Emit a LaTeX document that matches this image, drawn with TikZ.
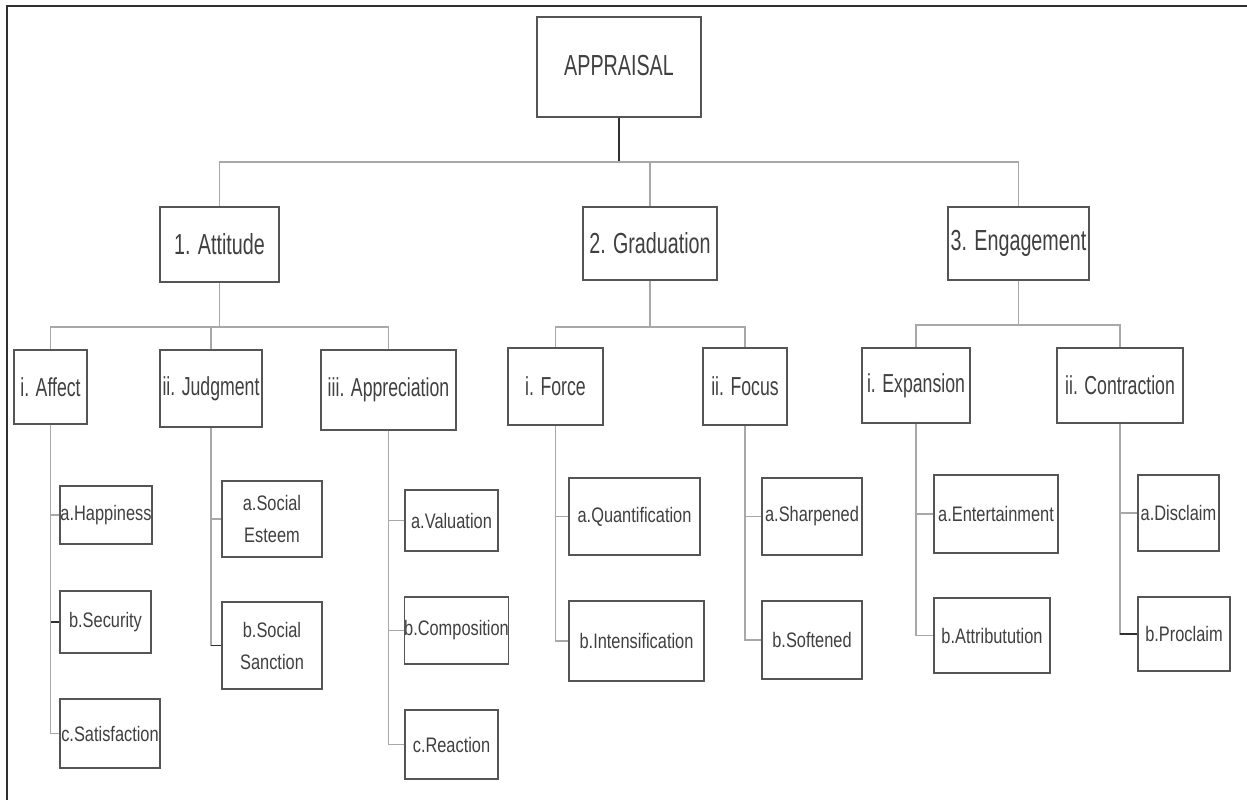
\documentclass[tikz,border=0pt]{standalone}
\usepackage{fontspec}
\newfontfamily\headfont{Liberation Sans}[FakeStretch=0.68]
\newfontfamily\leaffont{Liberation Sans}[FakeStretch=0.78]
\definecolor{boxc}{HTML}{555555}
\definecolor{txtc}{HTML}{404040}
\definecolor{linec}{HTML}{A8A8A8}
\definecolor{darkc}{HTML}{303030}
\begin{document}
\begin{tikzpicture}[x=1pt,y=-1pt,
  box/.style={draw=boxc, line width=1.2pt, inner sep=0pt, text=txtc, align=center},
  lvl0/.style={box, font={\headfont\fontsize{29}{32}\selectfont}},
  lvl1/.style={box, font={\headfont\fontsize{29}{32}\selectfont}},
  lvl2/.style={box, font={\headfont\fontsize{26}{30}\selectfont}},
  leaf/.style={box, font={\leaffont\fontsize{21}{32}\selectfont}},
  conn/.style={draw=linec, line width=1.3pt},
  dconn/.style={draw=darkc, line width=1.3pt},
  frame/.style={draw=darkc, line width=2pt}]
\useasboundingbox (0,0) rectangle (1247,800);
\fill[white] (0,0) rectangle (1247,800);
\draw[frame] (7,800) -- (7,6) -- (1247,6);

% top
\node[lvl0, minimum width=164, minimum height=100] (app) at (619,67) {\raisebox{4pt}{APPRAISAL}};
% level 1
\node[lvl1, minimum width=119, minimum height=75] (att) at (219.5,244.5) {1. Attitude};
\node[lvl1, minimum width=134, minimum height=73] (grad) at (650,243.5) {2. Graduation};
\node[lvl1, minimum width=141, minimum height=73] (eng) at (1018.5,243.5) {3. Engagement};
% level 2
\node[lvl2, minimum width=73, minimum height=74] (aff) at (50.5,387) {i. Affect};
\node[lvl2, minimum width=102, minimum height=77] (jud) at (211,388.5) {ii. Judgment};
\node[lvl2, minimum width=135, minimum height=80] (appr) at (388.5,390) {iii. Appreciation};
\node[lvl2, minimum width=95, minimum height=77] (force) at (555.5,386.5) {i. Force};
\node[lvl2, minimum width=84, minimum height=77] (focus) at (745,386.5) {ii. Focus};
\node[lvl2, minimum width=108, minimum height=75] (exp) at (916,385.5) {i. Expansion};
\node[lvl2, minimum width=126, minimum height=75] (con) at (1120,385.5) {ii. Contraction};
% leaves
\node[leaf, minimum width=92, minimum height=58] (hap) at (106,515) {a.Happiness};
\node[leaf, minimum width=91, minimum height=62] (sec) at (105.5,622) {b.Security};
\node[leaf, minimum width=100, minimum height=69] (sat) at (110,733.5) {c.Satisfaction};
\node[leaf, minimum width=100, minimum height=76] (se) at (272,519) {a.Social\\Esteem};
\node[leaf, minimum width=100, minimum height=87] (ss) at (272,645.5) {b.Social\\Sanction};
\node[leaf, minimum width=93, minimum height=61] (val) at (451.5,520.5) {a.Valuation};
\node[leaf, minimum width=103, minimum height=67] (comp) at (456.5,630.5) {b.Composition};
\node[leaf, minimum width=93, minimum height=69] (reac) at (451.5,744.5) {c.Reaction};
\node[leaf, minimum width=131, minimum height=77] (quant) at (634.5,516.5) {a.Quantification};
\node[leaf, minimum width=135, minimum height=80] (inten) at (636.5,641) {b.Intensification};
\node[leaf, minimum width=100, minimum height=77] (sharp) at (812,516.5) {a.Sharpened};
\node[leaf, minimum width=100, minimum height=78] (soft) at (812,640) {b.Softened};
\node[leaf, minimum width=124, minimum height=78] (ent) at (996,514) {a.Entertainment};
\node[leaf, minimum width=116, minimum height=75] (attr) at (992,635.5) {b.Attributution};
\node[leaf, minimum width=81, minimum height=76] (dis) at (1178.5,513) {a.Disclaim};
\node[leaf, minimum width=92, minimum height=74] (pro) at (1184,634) {b.Proclaim};

% bus coordinates
\coordinate (bus0) at (619,162);
\coordinate (busA) at (219.5,327);
\coordinate (busG) at (650,327);
\coordinate (busE) at (1018.5,325);

% top level connectors
\draw[dconn] (app.south) -- (bus0);
\draw[conn] (att.north) |- (bus0) -| (eng.north);
\draw[conn] (grad.north) -- (grad.north |- bus0);
% attitude
\draw[conn] (att.south) -- (busA);
\draw[conn] (aff.north) |- (busA) -| (appr.north);
\draw[conn] (jud.north) -- (jud.north |- busA);
% graduation
\draw[conn] (grad.south) -- (busG);
\draw[conn] (force.north) |- (busG) -| (focus.north);
% engagement
\draw[conn] (eng.south) -- (busE);
\draw[conn] (exp.north) |- (busE) -| (con.north);

% leaves
\draw[conn] (aff.south) |- (hap.west);
\draw[conn] (aff.south) |- (sat.west);
\draw[dconn] (aff.south |- sec.west) -- (sec.west);
\draw[conn] (jud.south) |- (se.west);
\draw[conn] (jud.south) |- (ss.west);
\draw[dconn] (jud.south |- ss.west) -- (ss.west);
\draw[conn] (appr.south) |- (val.west);
\draw[conn] (appr.south) |- (comp.west);
\draw[conn] (appr.south) |- (reac.west);
\draw[conn] (force.south) |- (quant.west);
\draw[conn] (force.south) |- (inten.west);
\draw[conn] (focus.south) |- (sharp.west);
\draw[conn] (focus.south) |- (soft.west);
\draw[conn] (exp.south) |- (ent.west);
\draw[conn] (exp.south) |- (attr.west);
\draw[conn] (con.south) |- (dis.west);
\draw[conn] (con.south) |- (pro.west);
\draw[dconn] (con.south |- pro.west) -- (pro.west);
\end{tikzpicture}
\end{document}
